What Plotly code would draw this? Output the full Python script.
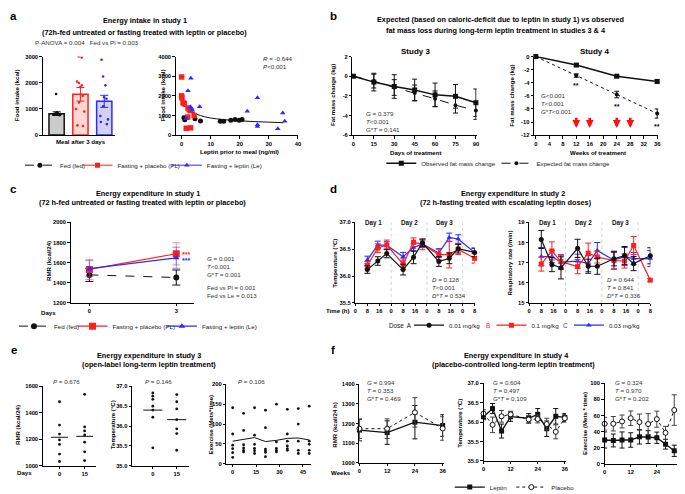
import plotly.graph_objects as go

W, H = 685, 494
FONT = "Liberation Sans, Arial, sans-serif"
RED = "#ff1f1f"
BLUE = "#2b2bff"
BLACK = "#111111"
GREY_TXT = "#333333"

# ---------------- panel a : energy intake, study 1
bar_x = [0, 1, 2]
bar_means = [820, 1560, 1290]
bar_sem = [70, 260, 230]
fed_intake = [1570, 870, 850, 830, 810, 800, 780, 760, 820]
pl_intake = [2960, 3000, 2050, 1990, 1900, 1840, 1500, 1250, 1000, 900, 350, 370]
le_intake = [2880, 2240, 1900, 1450, 1390, 1100, 730, 600, 500, 420]

fed_leptin = [0.8, 1.1, 1.0, 4.6, 6.5, 13.3, 14.5, 16.9, 18.4, 19.8, 20.8]
fed_food = [880, 780, 1570, 830, 720, 700, 700, 760, 790, 760, 790]
pl_leptin = [0.0, 0.0, 0.1, 0.5, 0.9, 2.2, 2.6, 3.0, 2.1, 1.6, 3.1, 4.3]
pl_food = [2960, 2000, 1900, 1650, 1600, 1380, 1300, 1250, 920, 350, 370, 1000]
le_leptin = [3.2, 2.2, 3.0, 3.4, 3.7, 1.6, 6.2, 22.6, 26.1, 26.1, 26.1, 33.1, 34.8, 35.5]
le_food = [2900, 2260, 1450, 1370, 1270, 850, 1450, 1210, 1900, 530, 440, 330, 1130, 700]
fit_leptin = [0, 1, 2, 3, 5, 8, 12, 16, 20, 25, 30, 35]
fit_food = [2100, 1650, 1420, 1270, 1080, 930, 830, 770, 730, 690, 660, 630]

# ---------------- panel b : fat mass, studies 3 & 4
s3_days = [0, 15, 30, 45, 60, 75, 90]
s3_obs = [0, -0.6, -1.05, -1.4, -1.9, -2.05, -2.7]
s3_obs_err = [0, 0.9, 1.2, 1.1, 1.2, 1.2, 1.4]
s3_exp = [0, -0.5, -1.15, -1.7, -2.3, -2.95, -3.5]
s3_exp_err = [0, 0.7, 0.8, 0.8, 0.8, 0.8, 0.9]

s4_weeks = [0, 12, 24, 36]
s4_obs = [0, -1.3, -3.0, -3.8]
s4_obs_err = [0, 0.15, 0.15, 0.3]
s4_exp = [0, -2.9, -5.8, -8.7]
s4_exp_err = [0, 0.25, 0.5, 0.7]
s4_sig = ["", "**", "**", "**"]
dose_up_weeks = [12, 16, 24, 28]

# ---------------- panel c : RMR, study 1
c_days = [0, 3]
c_fed = [1478, 1452]
c_fed_err = [65, 75]
c_pl = [1532, 1688]
c_pl_err = [100, 110]
c_le = [1540, 1648]
c_le_err = [80, 105]

# ---------------- panel d : study 2, escalating doses
d_hours = [8, 15, 21, 32, 39, 45, 56, 63, 69, 80]
d_tick_vals = [0, 8, 16, 24, 32, 40, 48, 56, 64, 72, 80]
d_tick_text = ["0", "8", "16", "0", "8", "16", "0", "8", "16", "0", "8"]
d_day_bounds = [24, 48, 72]
d_day_mid = [12, 36, 60]
d_day_names = ["Day 1", "Day 2", "Day 3"]
temp_a = [36.12, 36.28, 36.42, 36.12, 36.35, 36.62, 36.27, 36.33, 36.51, 36.44]
temp_a_err = [0.07, 0.08, 0.08, 0.1, 0.12, 0.07, 0.09, 0.1, 0.08, 0.08]
temp_b = [36.2, 36.52, 36.58, 36.22, 36.63, 36.59, 36.4, 36.4, 36.5, 36.33]
temp_b_err = [0.07, 0.08, 0.09, 0.1, 0.08, 0.1, 0.1, 0.25, 0.1, 0.09]
temp_c = [36.3, 36.58, 36.57, 36.36, 36.53, 36.6, 36.43, 36.72, 36.69, 36.44]
temp_c_err = [0.07, 0.07, 0.07, 0.08, 0.07, 0.07, 0.08, 0.08, 0.08, 0.08]
resp_a = [18.15, 16.9, 16.74, 17.71, 16.82, 16.82, 17.19, 17.35, 16.95, 17.34]
resp_a_err = [0.45, 0.35, 0.55, 0.45, 0.35, 0.4, 0.35, 0.45, 0.35, 0.4]
resp_b = [16.93, 17.58, 17.05, 16.8, 17.47, 17.28, 17.1, 17.08, 17.85, 16.13]
resp_b_err = [0.35, 0.45, 0.35, 0.35, 0.5, 0.3, 0.4, 0.35, 0.45, 0.08]
resp_c = [17.3, 17.3, 17.02, 17.07, 16.95, 17.6, 17.12, 17.3, 17.2, 17.2]
resp_c_err = [0.45, 0.3, 0.35, 0.35, 0.4, 0.4, 0.45, 0.45, 0.3, 0.4]

# ---------------- panel e : study 3 open label
e_days = [0, 15]
rmr_d0 = [1483, 1307, 1239, 1195, 1161, 1088, 1032]
rmr_d15 = [1539, 1293, 1263, 1232, 1178, 1105, 1039]
rmr_mean = [1215, 1222]
tmp_d0 = [36.83, 36.75, 36.67, 36.5, 36.4, 36.22, 35.45]
tmp_d15 = [36.79, 36.61, 36.43, 36.16, 35.93, 35.81, 35.39]
tmp_mean = [36.4, 36.16]
ex_day = [0, 0, 0, 0, 0, 0,
          7, 7, 7, 7, 7, 7,
          14, 14, 14, 14, 14, 14,
          21, 21, 21, 21, 21, 21,
          28, 28, 28, 28, 28,
          35, 35, 35, 35, 35, 35,
          42, 42, 42, 42, 42,
          49, 49, 49, 49, 49]
ex_val = [141, 75, 47, 38, 28, 16,
          127, 84, 48, 40, 34, 30,
          141, 72, 49, 39, 33, 26,
          135, 91, 37, 33, 29, 18,
          150, 55, 39, 34, 30,
          137, 75, 57, 45, 38, 34,
          139, 100, 57, 34, 26,
          145, 57, 49, 34, 26]
ex_days = [0, 7, 14, 21, 28, 35, 42, 49]
ex_mean = [57, 61, 66, 56, 59, 64, 65, 60]

# ---------------- panel f : study 4 placebo controlled
f_rmr_weeks = [0, 12, 24, 36]
f_rmr_lep = [1167, 1154, 1207, 1190]
f_rmr_lep_err = [55, 60, 85, 55]
f_rmr_pla = [1174, 1174, 1257, 1175]
f_rmr_pla_err = [50, 50, 75, 60]
f_tmp_weeks = [0, 4, 8, 12, 20, 24, 28, 32, 36]
f_tmp_lep = [36.14, 36.35, 35.77, 36.14, 36.1, 36.2, 35.83, 36.15, 36.12]
f_tmp_lep_err = [0.08, 0.13, 0.18, 0.12, 0.12, 0.15, 0.2, 0.2, 0.1]
f_tmp_pla = [36.22, 35.93, 36.15, 36.2, 36.07, 36.08, 35.95, 35.75, 36.1]
f_tmp_pla_err = [0.1, 0.2, 0.15, 0.08, 0.1, 0.1, 0.15, 0.18, 0.1]
f_ex_weeks = [0, 4, 8, 12, 16, 20, 24, 28, 32, 36]
f_ex_lep = [29.6, 29, 29.6, 29.6, 33.6, 33.2, 32.4, 24.3, 16.2, 12]
f_ex_lep_err = [10, 8, 10, 9, 9, 8, 7, 6, 7, 7]
f_ex_pla = [49.8, 49.8, 52.6, 56.7, 51.8, 49.4, 55.5, 38.5, 66.8, 63.6]
f_ex_pla_err = [8, 9, 8, 9, 10, 13, 10, 8, 19, 25]


def px(x):
    return x / W


def py(y):
    return 1 - y / H


fig = go.Figure()
layout_axes = {}


def set_axes(i, x0, x1, yt, yb, xr, yr, xtv=None, xtt=None, ytv=None, ytt=None):
    s = "" if i == 1 else str(i)
    common = dict(showline=True, linecolor="black", linewidth=1, ticks="outside",
                  ticklen=2.5, tickwidth=1, tickcolor="black", showgrid=False,
                  zeroline=False, fixedrange=True,
                  tickfont=dict(family=FONT, size=5.8, color="black", weight="bold"))
    xa = dict(common, domain=[px(x0), px(x1)], anchor="y" + s, range=xr)
    if xtv is None:
        xa.update(ticks="", showticklabels=False)
    else:
        xa.update(tickmode="array", tickvals=xtv, ticktext=xtt or [str(v) for v in xtv])
    ya = dict(common, domain=[py(yb), py(yt)], anchor="x" + s, range=yr,
              tickmode="array", tickvals=ytv, ticktext=ytt or [str(v) for v in ytv])
    layout_axes["xaxis" + s] = xa
    layout_axes["yaxis" + s] = ya


def on(i):
    s = "" if i == 1 else str(i)
    return dict(xaxis="x" + s, yaxis="y" + s)


def err(arr, color, w=2.5):
    return dict(type="data", array=arr, color=color, thickness=1, width=w)


def fmt1(vals):
    return ["%.1f" % v for v in vals]


set_axes(1, 33, 106, 47, 128, [-0.58, 2.46], [0, 3000], None, None, [0, 1000, 2000, 3000])
set_axes(2, 167, 290, 47, 128, [-2, 40], [0, 4000], [0, 10, 20, 30, 40], None,
         [0, 1000, 2000, 3000, 4000])
set_axes(3, 345, 470, 47, 128, [-0.7, 90.5], [-6, 2], [0, 15, 30, 45, 60, 75, 90], None,
         [-6, -4, -2, 0, 2])
set_axes(4, 528, 653, 47, 128, [-0.5, 36.3], [-12, 0], list(range(0, 37, 4)), None,
         list(range(-12, 1, 2)))
set_axes(5, 61, 185, 218, 301, [-0.65, 3.6], [1200, 2000], [0, 3], None,
         [1200, 1400, 1600, 1800, 2000])
set_axes(6, 348, 468, 218, 301, [0, 80], [35.5, 37.0], d_tick_vals, d_tick_text,
         [35.5, 36.0, 36.5, 37.0], fmt1([35.5, 36.0, 36.5, 37.0]))
set_axes(7, 523, 645, 218, 301, [0, 80], [15, 19], d_tick_vals, d_tick_text,
         [15, 16, 17, 18, 19])
set_axes(8, 33, 87, 387, 469, [-10, 22], [1000, 1600], [0, 15], None,
         [1000, 1200, 1400, 1600])
set_axes(9, 123, 180, 387, 469, [-13, 22.5], [35, 37], [0, 15], None,
         [35, 35.5, 36, 36.5, 37], fmt1([35, 35.5, 36, 36.5, 37]))
set_axes(10, 218, 303, 385, 467, [-4, 50], [0, 200], [0, 15, 30, 45], None,
         [0, 50, 100, 150, 200])
set_axes(11, 352, 437, 385, 466, [0, 36.5], [1000, 1400], [0, 12, 24, 36], None,
         [1000, 1100, 1200, 1300, 1400])
set_axes(12, 477, 560, 384, 464, [0, 36.5], [35, 37], [0, 12, 24, 36], None,
         [35, 35.5, 36, 36.5, 37], fmt1([35, 35.5, 36, 36.5, 37]))
set_axes(13, 599, 679, 384, 467, [0, 36.5], [0, 100], [0, 12, 24, 36], None,
         [0, 20, 40, 60, 80, 100])

# ---- a: bars + points
bar_fill = ["#cbcbcb", "#fdd8d2", "#d3d1f6"]
bar_line = [BLACK, RED, BLUE]
for k, pts in enumerate([fed_intake, pl_intake, le_intake]):
    fig.add_trace(go.Bar(x=[bar_x[k]], y=[bar_means[k]], width=0.64,
                         marker=dict(color=bar_fill[k], line=dict(color=bar_line[k], width=1.5)),
                         error_y=err([bar_sem[k]], bar_line[k], 4), showlegend=False, **on(1)))
    fig.add_trace(go.Box(y=pts, x0=bar_x[k], boxpoints="all", jitter=0.9, pointpos=0,
                         width=0.5, fillcolor="rgba(0,0,0,0)", line=dict(color="rgba(0,0,0,0)", width=0),
                         marker=dict(size=2.6, color=bar_line[k]), showlegend=False, **on(1)))

fig.add_trace(go.Scatter(x=fit_leptin, y=fit_food, mode="lines", line=dict(color=BLACK, width=1, shape="spline"),
                         showlegend=False, **on(2)))
fig.add_trace(go.Scatter(x=fed_leptin, y=fed_food, mode="markers", cliponaxis=False,
                         marker=dict(symbol="circle", size=5, color=BLACK), showlegend=False, **on(2)))
fig.add_trace(go.Scatter(x=pl_leptin, y=pl_food, mode="markers", cliponaxis=False,
                         marker=dict(symbol="square", size=5.5, color=RED), showlegend=False, **on(2)))
fig.add_trace(go.Scatter(x=le_leptin, y=le_food, mode="markers", cliponaxis=False,
                         marker=dict(symbol="triangle-up", size=5, color=BLUE), showlegend=False, **on(2)))

# legend entries for a (no data, legend only)
grp_names = ["Fed (fed)", "Fasting + placebo (PL)", "Fasting + leptin (Le)"]
grp_color = [BLACK, RED, BLUE]
grp_symbol = ["circle", "square", "triangle-up"]
grp_dash = ["dash", "solid", "solid"]
a_legends = ["legend", "legend2", "legend3"]
for k in range(3):
    fig.add_trace(go.Scatter(x=[None], y=[None], mode="lines+markers", name=grp_names[k],
                             line=dict(color=grp_color[k], width=1, dash=grp_dash[k]),
                             marker=dict(symbol=grp_symbol[k], size=5, color=grp_color[k]),
                             legend=a_legends[k], **on(1)))

# ---- b: fat mass
for i, xs, obs, oe, ex, ee, dash in [(3, s3_days, s3_obs, s3_obs_err, s3_exp, s3_exp_err, "dash"),
                                     (4, s4_weeks, s4_obs, s4_obs_err, s4_exp, s4_exp_err, "dot")]:
    fig.add_trace(go.Scatter(x=xs, y=ex, mode="lines+markers", cliponaxis=False, name="Expected fat mass change",
                             line=dict(color=BLACK, width=1, dash=dash), marker=dict(symbol="circle", size=4, color=BLACK),
                             error_y=err(ee, BLACK), showlegend=(i == 3), legend="legend5", **on(i)))
    fig.add_trace(go.Scatter(x=xs, y=obs, mode="lines+markers", cliponaxis=False, name="Observed fat mass change",
                             line=dict(color=BLACK, width=1.5), marker=dict(symbol="square", size=5, color=BLACK),
                             error_y=err(oe, BLACK), showlegend=(i == 3), legend="legend4", **on(i)))

# ---- c: RMR study 1
for k, (ys, es) in enumerate([(c_fed, c_fed_err), (c_pl, c_pl_err), (c_le, c_le_err)]):
    ecol = [BLACK, "rgba(255,60,60,0.55)", "rgba(60,60,255,0.55)"][k]
    fig.add_trace(go.Scatter(x=c_days, y=ys, mode="lines+markers", cliponaxis=False, name=grp_names[k],
                             line=dict(color=grp_color[k], width=1.2 if k else 1, dash=grp_dash[k]),
                             marker=dict(symbol=grp_symbol[k], size=[6, 7, 6][k], color=grp_color[k]),
                             error_y=err(es, ecol, 4), legend="legend%d" % (6 + k), **on(5)))

# ---- d: study 2
dose_names = ["0.01 mg/kg", "0.1 mg/kg", "0.03 mg/kg"]
dose_symbol = ["circle", "square", "triangle-up"]
dose_color = [BLACK, RED, BLUE]
for i, sets in [(6, [(temp_a, temp_a_err), (temp_b, temp_b_err), (temp_c, temp_c_err)]),
                (7, [(resp_a, resp_a_err), (resp_b, resp_b_err), (resp_c, resp_c_err)])]:
    for k in [2, 1, 0]:
        ys, es = sets[k]
        fig.add_trace(go.Scatter(x=d_hours, y=ys, mode="lines+markers", cliponaxis=False, name=dose_names[k],
                                 line=dict(color=dose_color[k], width=1.2),
                                 marker=dict(symbol=dose_symbol[k], size=5, color=dose_color[k]),
                                 error_y=err(es, dose_color[k], 3), showlegend=(i == 6),
                                 legend="legend%d" % (9 + k), **on(i)))

# ---- e: study 3 open label
MEAN_HALF = 5
for i, groups, means, half in [(8, [rmr_d0, rmr_d15], rmr_mean, MEAN_HALF),
                               (9, [tmp_d0, tmp_d15], tmp_mean, MEAN_HALF + 1)]:
    xs, ys = [], []
    for d, vals in zip(e_days, groups):
        xs += [d] * len(vals)
        ys += vals
    fig.add_trace(go.Scatter(x=xs, y=ys, mode="markers", cliponaxis=False,
                             marker=dict(size=2.8, color=BLACK), showlegend=False, **on(i)))
    lx, ly = [], []
    for d, m in zip(e_days, means):
        lx += [d - half, d + half, None]
        ly += [m, m, None]
    fig.add_trace(go.Scatter(x=lx, y=ly, mode="lines", line=dict(color=BLACK, width=1),
                             showlegend=False, **on(i)))
fig.add_trace(go.Scatter(x=ex_day, y=ex_val, mode="markers", cliponaxis=False,
                         marker=dict(size=2.8, color=BLACK), showlegend=False, **on(10)))
fig.add_trace(go.Scatter(x=ex_days, y=ex_mean, mode="lines", line=dict(color=BLACK, width=1),
                         showlegend=False, **on(10)))

# ---- f: study 4
for i, xs, lep, le_, pla, pe in [(11, f_rmr_weeks, f_rmr_lep, f_rmr_lep_err, f_rmr_pla, f_rmr_pla_err),
                                 (12, f_tmp_weeks, f_tmp_lep, f_tmp_lep_err, f_tmp_pla, f_tmp_pla_err),
                                 (13, f_ex_weeks, f_ex_lep, f_ex_lep_err, f_ex_pla, f_ex_pla_err)]:
    fig.add_trace(go.Scatter(x=xs, y=lep, mode="lines+markers", cliponaxis=False, name="Leptin",
                             line=dict(color=BLACK, width=1.3), marker=dict(symbol="square", size=5, color=BLACK),
                             error_y=err(le_, BLACK), showlegend=(i == 11), legend="legend12", **on(i)))
    fig.add_trace(go.Scatter(x=xs, y=pla, mode="lines+markers", cliponaxis=False, name="Placebo",
                             line=dict(color=BLACK, width=1, dash="dot"),
                             marker=dict(symbol="circle", size=5, color="white", line=dict(color=BLACK, width=1)),
                             error_y=err(pe, "#444444"), showlegend=(i == 11), legend="legend13", **on(i)))

# ---------------- annotations
ann = []


def note(text, x, y, size=6.3, bold=False, xa="center", ya="middle", angle=0, color="black"):
    ann.append(dict(text=text, x=px(x), y=py(y), xref="paper", yref="paper", showarrow=False,
                    xanchor=xa, yanchor=ya, textangle=angle, align="left",
                    font=dict(family=FONT, size=size, color=color, weight="bold" if bold else "normal")))


for t, x, y in [("a", 4, 5), ("b", 326, 5), ("c", 4, 184), ("d", 326, 184), ("e", 4, 350), ("f", 325, 350)]:
    note(t, x, y, size=11.5, bold=True)

TS = 7.3
note("Energy intake in study 1", 136, 10, TS, True)
note("(72h-fed untreated or fasting treated with leptin or placebo)", 135, 22, TS, True)
note("Expected (based on caloric-deficit due to leptin in study 1) vs observed", 494, 9, TS, True)
note("fat mass loss during long-term leptin treatment in studies 3 & 4", 490, 20, TS, True)
note("Study 3", 408, 42, 8, True)
note("Study 4", 589, 42, 8, True)
note("Energy expenditure in study 1", 139, 188, TS, True)
note("(72 h-fed untreated or fasting treated with leptin or placebo)", 133, 198, TS, True)
note("Energy expenditure in study 2", 507, 188, TS, True)
note("(72 h-fasting treated with escalating leptin doses)", 500, 198, TS, True)
note("Energy expenditure in study 3", 140, 355, TS, True)
note("(open-label long-term leptin treatment)", 140, 365, TS, True)
note("Energy expenditure in study 4", 510, 355, TS, True)
note("(placebo-controlled long-term leptin treatment)", 507, 365, TS, True)

AS = 6.1
note("Food intake (kcal)", 6, 87, AS, True, angle=-90)
note("Food intake (kcal)", 153, 87, AS, True, angle=-90)
note("Meal after 3 days", 72, 135, AS, True)
note("Leptin prior to meal (ng/ml)", 231, 145, AS, True)
note("Fat mass change (kg)", 325, 87, AS, True, angle=-90)
note("Days of treatment", 408, 146, AS, True)
note("Fat mass change (kg)", 505, 87, AS, True, angle=-90)
note("Weeks of treatment", 592, 146, AS, True)
note("RMR (kcal/24)", 38, 258, AS, True, angle=-90)
note("Days", 39, 311, AS, True)
note("Temperature (°C)", 326, 260, AS, True, angle=-90)
note("Time (h)", 330, 309, AS, True)
note("Respiratory rate (/min)", 503, 260, AS, True, angle=-90)
note("RMR (kcal/24)", 7, 427, AS, True, angle=-90)
note("Days", 15, 476, AS, True)
note("Temperature (°C)", 103, 427, AS, True, angle=-90)
note("Exercise (Mets*time)", 202, 427, AS, True, angle=-90)
note("RMR (kcal/24 h)", 326, 427, AS, True, angle=-90)
note("Weeks", 333, 476, AS, True)
note("Temperature (°C)", 452, 425, AS, True, angle=-90)
note("Exercise (Mets * time)", 578, 425, AS, True, angle=-90)

SS = 6.2
note("P-ANOVA = 0.004   Fed vs Pl = 0.003", 23, 33, SS, xa="left", color=GREY_TXT)
note("<i>R</i> = -0.644<br><i>P</i><0.001", 253, 43, SS, xa="left", ya="top", color=GREY_TXT)
note("<i>G</i> = 0.379<br><i>T</i><0.001<br>G*<i>T</i> = 0.141", 357, 100, SS, xa="left", ya="top", color=GREY_TXT)
note("<i>G</i><0.001<br><i>T</i><0.001<br><i>G</i>*<i>T</i><0.001", 533, 81, SS, xa="left", ya="top", color=GREY_TXT)
note("<i>G</i> = 0.001<br><i>T</i><0.001<br><i>G</i>*<i>T</i> = 0.001", 196, 250, SS, xa="left", ya="top", color=GREY_TXT)
note("Fed vs Pl = 0.001<br>Fed vs Le = 0.013", 196, 279, SS, xa="left", ya="top", color=GREY_TXT)
note("***", 177, 251, 7, True, color=RED)
note("***", 177, 257, 7, True, color=BLUE)
note("<i>D</i> = 0.128<br><i>T</i><0.001<br><i>D</i>*<i>T</i> = 0.534", 423, 271, SS, xa="left", ya="top", color=GREY_TXT)
note("<i>D</i> = 0.644<br><i>T</i> = 0.841<br><i>D</i>*<i>T</i> = 0.336", 599, 271, SS, xa="left", ya="top", color=GREY_TXT)
note("<i>P</i> = 0.676", 57, 382, SS, color=GREY_TXT)
note("<i>P</i> = 0.146", 150, 382, SS, color=GREY_TXT)
note("<i>P</i> = 0.106", 243, 382, SS, color=GREY_TXT)
note("<i>G</i> = 0.994<br><i>T</i> = 0.353<br><i>G</i>*<i>T</i> = 0.469", 358, 377, SS, xa="left", ya="top", color=GREY_TXT)
note("<i>G</i> = 0.604<br><i>T</i> = 0.497<br><i>G</i>*<i>T</i> = 0.109", 485, 377, SS, xa="left", ya="top", color=GREY_TXT)
note("<i>G</i> = 0.324<br><i>T</i> = 0.970<br><i>G</i>*<i>T</i> = 0.202", 607, 377, SS, xa="left", ya="top", color=GREY_TXT)

# dose legend letters
note("Dose  A", 407, 324, 6.3, xa="right", color=BLACK)
note("B", 482, 324, 6.3, color=RED)
note("C", 560, 324, 6.3, color=BLUE)

# significance marks under the expected points of study 4
for w, v, e, s in zip(s4_weeks, s4_exp, s4_exp_err, s4_sig):
    if s:
        ann.append(dict(text=s, x=w, y=v - e - 0.5, xref="x4", yref="y4", showarrow=False, yanchor="top",
                        font=dict(family=FONT, size=7, color=BLACK, weight="bold")))

# dose increase arrows in study 4
for w in dose_up_weeks:
    ann.append(dict(text="", x=w, y=-10.9, ax=w, ay=-9.1, xref="x4", yref="y4", axref="x4", ayref="y4",
                    showarrow=True, arrowhead=2, arrowsize=0.6, arrowwidth=2.6, arrowcolor="#ff1010"))

# day labels in study 2
for i in (6, 7):
    for m, name in zip(d_day_mid, d_day_names):
        ann.append(dict(text=name, x=m, y=1.07, xref="x%d" % i, yref="y%d domain" % i, showarrow=False,
                        font=dict(family=FONT, size=6.3, color=BLACK, weight="bold")))

shapes = []
for i in (6, 7):
    for b in d_day_bounds:
        shapes.append(dict(type="line", x0=b, x1=b, y0=0, y1=1, xref="x%d" % i, yref="y%d domain" % i,
                           line=dict(color="#c8c8c8", width=0.8, dash="dot"), layer="below"))


def leg(text_x, y):
    return dict(x=px(text_x - 40), y=py(y), xanchor="left", yanchor="middle", orientation="h",
                bgcolor="rgba(0,0,0,0)", borderwidth=0, itemwidth=30,
                font=dict(family=FONT, size=6.2, color="#222222"))


legends = {
    "legend": leg(50, 159), "legend2": leg(108, 159), "legend3": leg(198, 159),
    "legend4": leg(414, 157), "legend5": leg(530, 157),
    "legend6": leg(44, 325), "legend7": leg(103, 325), "legend8": leg(193, 325),
    "legend9": leg(442, 324), "legend10": leg(525, 324), "legend11": leg(603, 324),
    "legend12": leg(483, 491), "legend13": leg(545, 491),
}

fig.update_layout(width=W, height=H, margin=dict(l=0, r=0, t=0, b=0),
                  paper_bgcolor="white", plot_bgcolor="white", barmode="overlay",
                  font=dict(family=FONT, size=6.3, color="black"),
                  annotations=ann, shapes=shapes, **layout_axes, **legends)

fig.write_html("out.html")
